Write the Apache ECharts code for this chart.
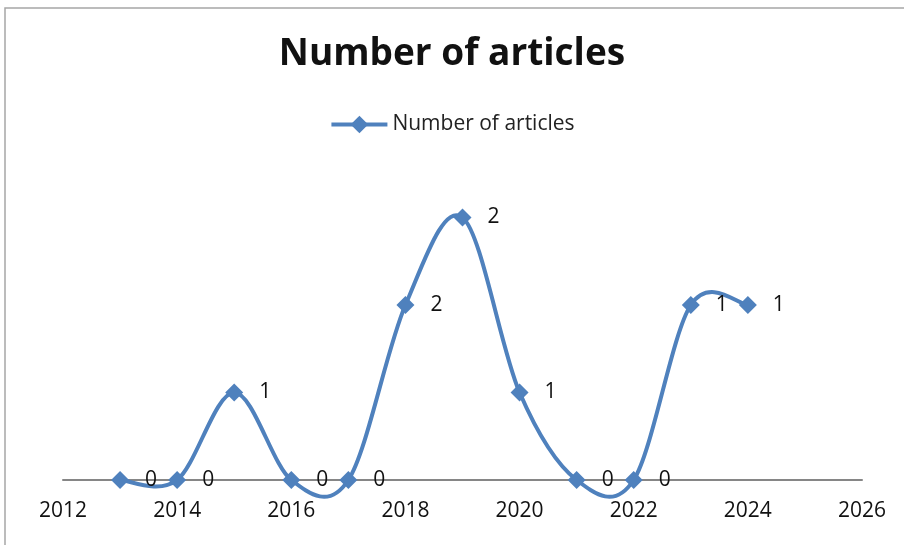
<!DOCTYPE html>
<html>
<head>
<meta charset="utf-8">
<script src="https://cdn.jsdelivr.net/npm/echarts@6/dist/echarts.min.js"></script>
<style>
  html, body { margin: 0; padding: 0; background: #fff; }
  #chart { width: 904px; height: 545px; }
</style>
</head>
<body>
<div id="chart"></div>
<script>
// years and plotted values
const years = [2013, 2014, 2015, 2016, 2017, 2018, 2019, 2020, 2021, 2022, 2023, 2024];
const articles = [0, 0, 1, 0, 0, 2, 3, 1, 0, 0, 2, 2];
// data labels as printed in the original chart
const labelText = ['0', '0', '1', '0', '0', '2', '2', '1', '0', '0', '1', '1'];

const chart = echarts.init(document.getElementById('chart'));

const font = '"Open Sans", Lato, sans-serif';
const blue = '#4f81bd';
const points = years.map((y, i) => [y, articles[i]]);

// Excel-style smoothed line (Catmull-Rom, may overshoot), in pixel space from the axes
function smoothPath(api) {
  const px = points.map(p => api.coord(p));
  let d = 'M' + px[0][0] + ' ' + px[0][1];
  for (let i = 0; i < px.length - 1; i++) {
    const p0 = px[i - 1] || px[i];
    const p1 = px[i];
    const p2 = px[i + 1];
    const p3 = px[i + 2] || p2;
    const c1 = [p1[0] + (p2[0] - p0[0]) / 6, p1[1] + (p2[1] - p0[1]) / 6];
    const c2 = [p2[0] - (p3[0] - p1[0]) / 6, p2[1] - (p3[1] - p1[1]) / 6];
    d += ' C' + c1[0] + ' ' + c1[1] + ' ' + c2[0] + ' ' + c2[1] + ' ' + p2[0] + ' ' + p2[1];
  }
  return d;
}

const option = {
  animation: false,
  textStyle: { fontFamily: font },
  title: {
    text: 'Number of articles',
    left: 'center',
    top: 31,
    textStyle: { fontSize: 37, fontWeight: 'bold', color: '#111', fontFamily: font }
  },
  legend: {
    data: ['Number of articles'],
    top: 109,
    left: 'center',
    itemWidth: 56,
    itemHeight: 22,
    itemGap: 3,
    lineStyle: { color: blue, width: 4, opacity: 1 },
    textStyle: { fontSize: 21, color: '#222', fontFamily: font }
  },
  grid: { left: 63, right: 42, top: 130, bottom: 65 },
  xAxis: {
    type: 'value',
    min: 2012,
    max: 2026,
    interval: 2,
    axisLine: { lineStyle: { color: '#868686', width: 2 } },
    axisTick: { show: false },
    splitLine: { show: false },
    axisLabel: { fontSize: 21, color: '#111', margin: 21, fontFamily: font, formatter: v => String(v) }
  },
  yAxis: {
    type: 'value',
    min: 0,
    max: 4,
    show: false,
    splitLine: { show: false }
  },
  graphic: [{
    type: 'rect',
    shape: { x: 5, y: 8, width: 1000, height: 700 },
    style: { fill: 'none', stroke: '#a6a6a6', lineWidth: 1.5 },
    silent: true,
    z: -1
  }],
  series: [
    {
      type: 'custom',
      data: [points[0]],
      z: 1,
      silent: true,
      renderItem: (params, api) => ({
        type: 'path',
        shape: { pathData: smoothPath(api) },
        style: { fill: 'none', stroke: blue, lineWidth: 4 }
      })
    },
    {
      name: 'Number of articles',
      type: 'line',
      data: points,
      z: 2,
      symbol: 'diamond',
      symbolSize: 18,
      itemStyle: { color: blue },
      lineStyle: { width: 0, opacity: 0 },
      label: {
        show: true,
        position: 'right',
        distance: 16,
        fontSize: 21,
        color: '#111',
        fontFamily: font,
        formatter: p => labelText[p.dataIndex]
      }
    }
  ]
};

chart.setOption(option);
</script>
</body>
</html>
